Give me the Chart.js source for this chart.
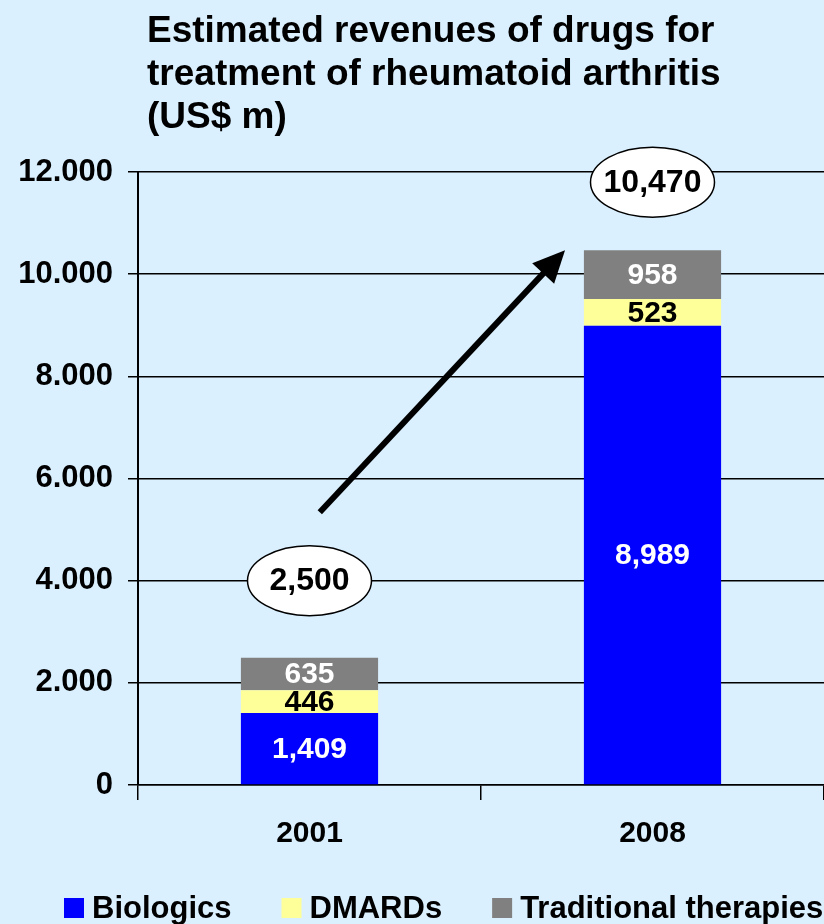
<!DOCTYPE html>
<html>
<head>
<meta charset="utf-8">
<title>Rheumatoid arthritis drug revenues</title>
<script src="https://cdn.jsdelivr.net/npm/chart.js@4.4.1/dist/chart.umd.min.js"></script>
<style>
    html, body { margin: 0; padding: 0; background: #DAF0FE; }
    #wrap { position: relative; width: 824px; height: 924px; overflow: hidden; }
    #title {
        position: absolute; left: 147px; top: 8px; margin: 0;
        font: bold 37px "Liberation Sans", Arial, sans-serif;
        line-height: 43px; color: #000;
    }
    canvas { position: absolute; left: 0; top: 0; }
</style>
</head>
<body>
<div id="wrap">
    <canvas id="chart" width="824" height="924"></canvas>
    <h1 id="title">Estimated revenues of drugs for<br>treatment of rheumatoid arthritis<br>(US$ m)</h1>
</div>
<script>
// Data
const years = ['2001', '2008'];
const biologics = [1409, 8989];
const dmards = [446, 523];
const traditional = [635, 958];
const totalLabels = ['2,500', '10,470'];
const yTicks = [0, 2000, 4000, 6000, 8000, 10000, 12000];

const FONT = '"Liberation Sans", Arial, sans-serif';

const fmtComma = v => String(v).replace(/\B(?=(\d{3})+(?!\d))/g, ',');
const fmtDot = v => String(v).replace(/\B(?=(\d{3})+(?!\d))/g, '.');

// value labels in the middle of each segment
const segmentLabels = {
    id: 'segmentLabels',
    afterDatasetsDraw(chart) {
        const ctx = chart.ctx;
        const colors = ['#ffffff', '#000000', '#ffffff'];
        ctx.save();
        ctx.font = 'bold 30px ' + FONT;
        ctx.textAlign = 'center';
        ctx.textBaseline = 'middle';
        chart.data.datasets.forEach((ds, di) => {
            chart.getDatasetMeta(di).data.forEach((bar, i) => {
                ctx.fillStyle = colors[di];
                ctx.fillText(fmtComma(ds.data[i]), bar.x, (bar.y + bar.base) / 2 + 1);
            });
        });
        ctx.restore();
    }
};

// growth arrow + total bubbles
const callouts = {
    id: 'callouts',
    afterDraw(chart, args, opts) {
        const ctx = chart.ctx;
        const x = chart.scales.x, y = chart.scales.y;

        // arrow
        const x0 = x.getPixelForValue(opts.arrowFrom[0]), y0 = y.getPixelForValue(opts.arrowFrom[1]);
        const x1 = x.getPixelForValue(opts.arrowTo[0]), y1 = y.getPixelForValue(opts.arrowTo[1]);
        const ang = Math.atan2(y1 - y0, x1 - x0);
        const headLen = 32, headW = 15;
        const bx = x1 - headLen * Math.cos(ang), by = y1 - headLen * Math.sin(ang);
        ctx.save();
        ctx.strokeStyle = '#000';
        ctx.fillStyle = '#000';
        ctx.lineWidth = 6;
        ctx.beginPath();
        ctx.moveTo(x0, y0);
        ctx.lineTo(bx + 4 * Math.cos(ang), by + 4 * Math.sin(ang));
        ctx.stroke();
        ctx.beginPath();
        ctx.moveTo(x1, y1);
        ctx.lineTo(bx + headW * Math.sin(ang), by - headW * Math.cos(ang));
        ctx.lineTo(bx - headW * Math.sin(ang), by + headW * Math.cos(ang));
        ctx.closePath();
        ctx.fill();

        // bubbles
        ctx.font = 'bold 32px ' + FONT;
        ctx.textAlign = 'center';
        ctx.textBaseline = 'middle';
        totalLabels.forEach((txt, i) => {
            const cx = x.getPixelForValue(i);
            const cy = y.getPixelForValue(opts.bubbleAt[i]);
            ctx.beginPath();
            ctx.ellipse(cx, cy, 62, 35, 0, 0, Math.PI * 2);
            ctx.fillStyle = '#ffffff';
            ctx.fill();
            ctx.lineWidth = 1.5;
            ctx.strokeStyle = '#000';
            ctx.stroke();
            ctx.fillStyle = '#000';
            ctx.fillText(txt, cx, cy + 1);
        });
        ctx.restore();
    }
};

// legend along the bottom
const bottomLegend = {
    id: 'bottomLegend',
    afterDraw(chart) {
        const ctx = chart.ctx;
        let px = 64;
        const py = 908;
        ctx.save();
        ctx.font = 'bold 31px ' + FONT;
        ctx.textBaseline = 'middle';
        ctx.textAlign = 'left';
        chart.data.datasets.forEach(ds => {
            ctx.fillStyle = ds.backgroundColor;
            ctx.fillRect(px, py - 10, 20, 20);
            ctx.fillStyle = '#000';
            ctx.fillText(ds.label, px + 28, py + 1);
            px += 28 + ctx.measureText(ds.label).width + 50;
        });
        ctx.restore();
    }
};

new Chart(document.getElementById('chart'), {
    type: 'bar',
    data: {
        labels: years,
        datasets: [
            { label: 'Biologics', data: biologics, backgroundColor: '#0000FF' },
            { label: 'DMARDs', data: dmards, backgroundColor: '#FFFF99' },
            { label: 'Traditional therapies', data: traditional, backgroundColor: '#808080' }
        ]
    },
    options: {
        responsive: false,
        animation: false,
        layout: { padding: { top: 172, left: 0, right: 0, bottom: 0 } },
        datasets: { bar: { categoryPercentage: 1, barPercentage: 0.4, borderWidth: 0 } },
        scales: {
            x: {
                stacked: true,
                afterFit: s => { s.height = 139; },
                grid: { drawOnChartArea: false, drawTicks: true, tickLength: 15, color: '#000', lineWidth: 1.5 },
                border: { display: true, color: '#000', width: 1.5 },
                ticks: { color: '#000', padding: 16, font: { family: FONT, size: 30, weight: 'bold' } }
            },
            y: {
                stacked: true,
                min: 0,
                max: 12000,
                afterFit: s => { s.width = 138; },
                afterBuildTicks: s => { s.ticks = yTicks.map(v => ({ value: v })); },
                grid: { color: '#000', lineWidth: 1.5, tickLength: 10 },
                border: { display: true, color: '#000', width: 2 },
                ticks: {
                    color: '#000', padding: 15,
                    font: { family: FONT, size: 31, weight: 'bold' },
                    callback: v => fmtDot(v)
                }
            }
        },
        plugins: {
            legend: { display: false },
            tooltip: { enabled: false },
            callouts: {
                arrowFrom: [0.03, 5340],
                arrowTo: [0.745, 10470],
                bubbleAt: [4000, 11800]
            }
        }
    },
    plugins: [segmentLabels, callouts, bottomLegend]
});
</script>
</body>
</html>
